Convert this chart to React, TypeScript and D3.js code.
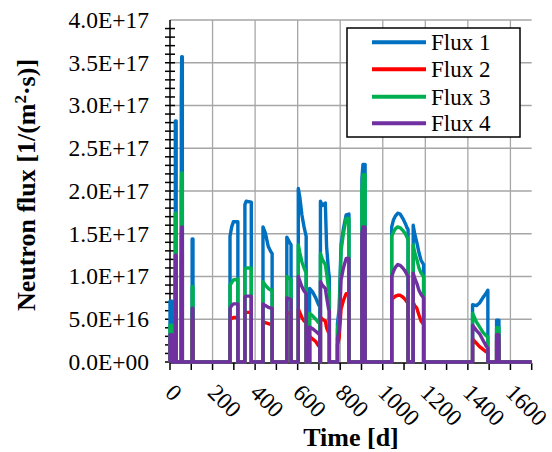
import React from "react";
import * as d3 from "d3";

// Irradiation history: time in days, fluxes in units of 1e15 1/(m²·s)
const days = [
  0, 0, 10, 10, 25, 25, 29, 29, 53, 53, 55, 58, 58, 104, 104, 108, 108,
  282, 282, 290, 298, 319, 319,
  352, 352, 358, 382, 382,
  437, 437, 448, 462, 474, 480, 480,
  549, 549, 560, 569, 569,
  603, 603, 610, 620, 630, 640, 640,
  656, 656, 670, 685, 698, 704, 704,
  707, 707, 716, 730, 736, 746, 749, 749,
  787, 787, 795, 804, 815, 828, 841, 841,
  902, 902, 907, 917, 917,
  1042, 1042, 1050, 1060, 1070, 1082, 1094, 1106, 1114, 1119, 1119,
  1143, 1143, 1150, 1160, 1170, 1180, 1192, 1192,
  1422, 1422, 1440, 1455, 1470, 1485, 1494, 1494,
  1535, 1535, 1546, 1546,
  1700,
];

const flux1 = [
  0, 71, 71, 0, 0, 282, 282, 0, 0, 307, 357, 357, 0, 0, 144, 144, 0,
  0, 147, 158, 164, 164, 0,
  0, 184, 188, 187, 0,
  0, 158, 151, 135, 129, 127, 0,
  0, 146, 141, 137, 0,
  0, 203, 193, 172, 158, 147, 0,
  0, 86, 82, 75, 67, 65, 0,
  0, 188, 183, 186, 135, 104, 100, 0,
  0, 45, 62, 137, 156, 172, 173, 0,
  0, 215, 231, 231, 0,
  0, 158, 166, 171, 174, 173, 168, 162, 157, 155, 0,
  0, 160, 150, 140, 128, 119, 114, 0,
  0, 67, 66, 69, 75, 80, 84, 0,
  0, 49, 49, 0,
  0,
];

const flux2 = [
  0, 26, 26, 0, 0, 100, 100, 0, 0, 118, 130, 130, 0, 0, 50, 50, 0,
  0, 49, 51, 52, 52, 0,
  0, 57, 58, 58, 0,
  0, 47, 46, 45, 44, 44, 0,
  0, 58, 57, 56, 0,
  0, 62, 58, 52, 48, 46, 0,
  0, 30, 27, 24, 19, 18, 0,
  0, 53, 50, 48, 40, 34, 33, 0,
  0, 20, 28, 62, 72, 80, 80, 0,
  0, 90, 95, 95, 0,
  0, 73, 75, 77, 78, 78, 76, 73, 70, 69, 0,
  0, 70, 66, 63, 55, 48, 44, 0,
  0, 27, 22, 18, 15, 12, 11, 0,
  0, 25, 25, 0,
  0,
];

const flux3 = [
  0, 43, 43, 0, 0, 174, 174, 0, 0, 200, 221, 221, 0, 0, 88, 88, 0,
  0, 90, 93, 96, 97, 0,
  0, 108, 110, 110, 0,
  0, 94, 90, 86, 84, 84, 0,
  0, 100, 98, 96, 0,
  0, 137, 128, 117, 110, 104, 0,
  0, 57, 54, 50, 46, 45, 0,
  0, 127, 120, 114, 104, 84, 82, 0,
  0, 38, 52, 130, 150, 168, 168, 0,
  0, 200, 219, 219, 0,
  0, 147, 152, 156, 158, 157, 154, 150, 146, 143, 0,
  0, 137, 128, 120, 110, 104, 100, 0,
  0, 57, 47, 41, 35, 31, 29, 0,
  0, 40, 40, 0,
  0,
];

const flux4 = [
  0, 32, 32, 0, 0, 125, 125, 0, 0, 145, 158, 158, 0, 0, 63, 63, 0,
  0, 63, 66, 68, 68, 0,
  0, 76, 77, 77, 0,
  0, 68, 66, 64, 63, 63, 0,
  0, 75, 74, 73, 0,
  0, 100, 95, 88, 83, 80, 0,
  0, 41, 39, 36, 33, 32, 0,
  0, 94, 90, 86, 76, 61, 60, 0,
  0, 28, 36, 96, 110, 121, 121, 0,
  0, 150, 158, 158, 0,
  0, 100, 106, 111, 114, 113, 110, 106, 102, 100, 0,
  0, 104, 98, 92, 84, 79, 75, 0,
  0, 43, 37, 33, 26, 19, 16, 0,
  0, 32, 32, 0,
  0,
];

const UNIT = 1e15;

const seriesNames = ["Flux 1", "Flux 2", "Flux 3", "Flux 4"];
const seriesColors = ["#0070C0", "#FF0000", "#00B050", "#7030A0"];
const seriesValues = [flux1, flux2, flux3, flux4];

const yTickLabels = [
  "0.0E+00", "5.0E+16", "1.0E+17", "1.5E+17", "2.0E+17",
  "2.5E+17", "3.0E+17", "3.5E+17", "4.0E+17",
];
const xTickLabels = ["0", "200", "400", "600", "800", "1000", "1200", "1400", "1600"];

const W = 552;
const H = 452;
const PLOT = { left: 170, right: 531.7, top: 20, bottom: 362 };
const SERIF = "'Liberation Serif', 'Times New Roman', serif";

export default function App() {
  const x = d3.scaleLinear().domain([0, 1700]).range([PLOT.left, PLOT.right]);
  const y = d3.scaleLinear().domain([0, 4e17]).range([PLOT.bottom, PLOT.top]);

  const yMajor = yTickLabels.map((s) => Number(s));
  const yMinor = d3.range(0, 4e17 + 1, 1e16);
  const xMajor = xTickLabels.map((s) => Number(s));
  const xMinor = d3.range(0, 1701, 100);

  const makeLine = (vals: number[]) =>
    d3
      .line<number>()
      .x((_, i) => x(days[i]))
      .y((d) => y(d * UNIT))(vals) ?? "";

  const legendX = 347;
  const legendY = 28;
  const legendW = 173;
  const legendH = 109;
  const rowY = [42.3, 69.3, 96.7, 123.3];

  return (
    <svg
      width={W}
      height={H}
      viewBox={`0 0 ${W} ${H}`}
      style={{ position: "absolute", left: 0, top: 0, background: "#fff" }}
    >
      <rect x={0} y={0} width={W} height={H} fill="#fff" />

      {/* gridlines */}
      <g stroke="#A6A6A6" strokeWidth={1.3}>
        {yMajor.slice(1).map((v) => (
          <line key={`hy${v}`} x1={PLOT.left} x2={PLOT.right} y1={y(v)} y2={y(v)} />
        ))}
        {xMajor.slice(1).map((v) => (
          <line key={`vx${v}`} x1={x(v)} x2={x(v)} y1={PLOT.top} y2={PLOT.bottom} />
        ))}
      </g>

      {/* axes */}
      <g stroke="#000" strokeWidth={1.5}>
        <line x1={PLOT.left} x2={PLOT.left} y1={PLOT.top} y2={PLOT.bottom} />
        <line x1={PLOT.left} x2={PLOT.right} y1={PLOT.bottom + 1} y2={PLOT.bottom + 1} />
        {yMinor.map((v) => (
          <line key={`yt${v}`} x1={PLOT.left - 5} x2={PLOT.left + 5} y1={y(v)} y2={y(v)} />
        ))}
        {xMinor.map((v) => (
          <line key={`xt${v}`} x1={x(v)} x2={x(v)} y1={PLOT.bottom + 1} y2={PLOT.bottom + 8} />
        ))}
      </g>

      {/* series */}
      <g fill="none" strokeLinejoin="round" strokeLinecap="butt">
        {seriesValues.map((vals, i) => (
          <path key={seriesNames[i]} d={makeLine(vals)} stroke={seriesColors[i]} strokeWidth={3.4} />
        ))}
      </g>

      {/* y tick labels */}
      <g fontFamily={SERIF} fontSize={23.5} fill="#000">
        {yTickLabels.map((s, i) => (
          <text key={s} x={149} y={y(yMajor[i])} dy="0.34em" textAnchor="end">
            {s}
          </text>
        ))}
      </g>

      {/* x tick labels */}
      <g fontFamily={SERIF} fontSize={23.5} fill="#000">
        {xTickLabels.map((s, i) => (
          <text key={s} transform={`translate(${x(xMajor[i]) - 6},394) rotate(45)`} textAnchor="start">
            {s}
          </text>
        ))}
      </g>

      {/* axis titles */}
      <text
        x={351}
        y={446}
        textAnchor="middle"
        fontFamily={SERIF}
        fontWeight="bold"
        fontSize={26}
      >
        Time [d]
      </text>
      <text
        transform="translate(35,185) rotate(-90)"
        textAnchor="middle"
        fontFamily={SERIF}
        fontWeight="bold"
        fontSize={26}
      >
        Neutron flux [1/(m
        <tspan baselineShift="super" fontSize={17}>2</tspan>
        ·s)]
      </text>

      {/* legend */}
      <rect x={legendX} y={legendY} width={legendW} height={legendH} fill="#fff" stroke="#000" strokeWidth={1.5} />
      {seriesNames.map((name, i) => (
        <g key={name}>
          <line x1={372} x2={426} y1={rowY[i]} y2={rowY[i]} stroke={seriesColors[i]} strokeWidth={4} />
          <text x={431} y={rowY[i]} dy="0.34em" fontFamily={SERIF} fontSize={23}>
            {name}
          </text>
        </g>
      ))}
    </svg>
  );
}
